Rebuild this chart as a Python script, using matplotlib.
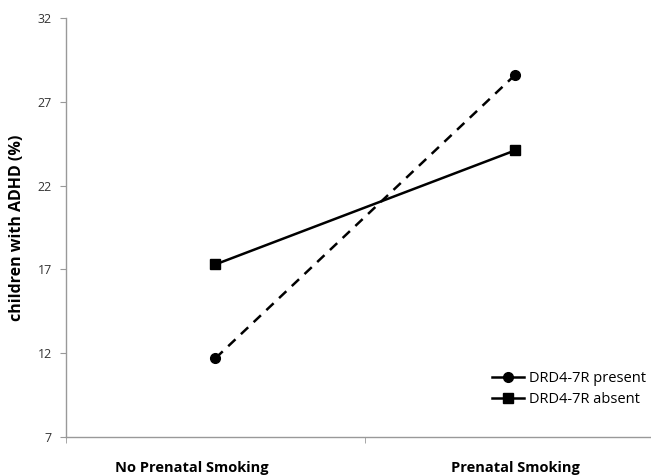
import matplotlib
matplotlib.use("Agg")
import matplotlib.pyplot as plt
from matplotlib.ticker import FixedLocator
from matplotlib.transforms import ScaledTranslation
from matplotlib.lines import Line2D

categories = ["No Prenatal Smoking", "Prenatal Smoking"]
present = [11.7, 28.6]
absent = [17.3, 24.1]
yticks = [7, 12, 17, 22, 27, 32]

plt.rcParams['font.family'] = ['Open Sans', 'DejaVu Sans']

fig = plt.figure(figsize=(6.51, 4.76), dpi=100)
ax = fig.add_axes([0.101, 0.082, 0.92, 0.880])

x = list(range(len(categories)))
ax.plot(x, present, color='black', lw=1.8, ls=(0, (4, 3)), marker='o', ms=7)
ax.plot(x, absent, color='black', lw=1.8, ls='-', marker='s', ms=6.5)

ax.set_xlim(-0.5, 1.5)
ax.set_ylim(7, 32)
ax.set_yticks(yticks)
ax.set_yticklabels([str(t) for t in yticks], fontsize=9, color='#333333')
ax.set_xticks(x)
ax.set_xticklabels(categories, fontsize=10.5, fontweight='bold')
ax.tick_params(axis='x', which='major', length=0, pad=17)
ax.xaxis.set_minor_locator(FixedLocator([-0.5, 0.5]))
ax.tick_params(axis='x', which='minor', length=4, color='#999999', direction='out')
ax.tick_params(axis='y', length=4, color='#999999', direction='out', pad=6)

lbls = ax.get_xticklabels()
lbls[0].set_transform(lbls[0].get_transform() + ScaledTranslation(-24/100, 0, fig.dpi_scale_trans))

for s in ['top', 'right']:
    ax.spines[s].set_visible(False)
for s in ['left', 'bottom']:
    ax.spines[s].set_color('#999999')
    ax.spines[s].set_linewidth(1.0)

ax.set_ylabel('children with ADHD (%)', fontsize=11.5, fontweight='bold', labelpad=9)

handles = [Line2D([], [], color='black', lw=1.8, marker='o', ms=7),
           Line2D([], [], color='black', lw=1.8, marker='s', ms=6.5)]
ax.legend(handles, ['DRD4-7R present', 'DRD4-7R absent'],
          loc='lower right', bbox_to_anchor=(0.99, 0.04), frameon=False, fontsize=10.5,
          handlelength=2.2, handletextpad=0.3, labelspacing=0.4)

fig.savefig('out.png', dpi=100)
